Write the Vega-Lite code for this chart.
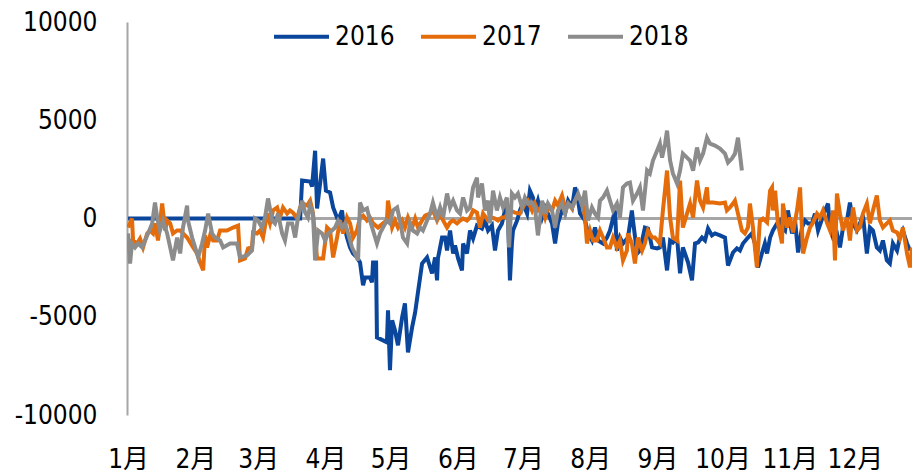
{
"$schema":"https://vega.github.io/schema/vega-lite/v6.json",
"width":785,"height":393,
"autosize":{"type":"none"},
"padding":{"left":127,"top":22,"right":2,"bottom":59},
"data":{"values":[
{"s":"2016","d":0,"v":0},{"s":"2016","d":79.3,"v":0},{"s":"2016","d":80.2,"v":1930},{"s":"2016","d":83.9,"v":1880},{"s":"2016","d":84.8,"v":1630},{"s":"2016","d":86.2,"v":3450},{"s":"2016","d":87.1,"v":510},{"s":"2016","d":89.9,"v":3050},{"s":"2016","d":91.2,"v":1420},{"s":"2016","d":93.1,"v":1320},{"s":"2016","d":94.5,"v":560},{"s":"2016","d":96.8,"v":-100},{"s":"2016","d":98.6,"v":410},{"s":"2016","d":99.1,"v":-100},{"s":"2016","d":100.9,"v":-970},{"s":"2016","d":102.3,"v":-1470},{"s":"2016","d":103.7,"v":-1780},{"s":"2016","d":105.5,"v":-1980},{"s":"2016","d":106.9,"v":-2240},{"s":"2016","d":108.3,"v":-3400},{"s":"2016","d":109.2,"v":-3000},{"s":"2016","d":111.5,"v":-3000},{"s":"2016","d":112.4,"v":-3250},{"s":"2016","d":112.9,"v":-2240},{"s":"2016","d":114.3,"v":-2240},{"s":"2016","d":114.7,"v":-6050},{"s":"2016","d":117.5,"v":-6200},{"s":"2016","d":119.3,"v":-6300},{"s":"2016","d":119.8,"v":-4670},{"s":"2016","d":120.7,"v":-7720},{"s":"2016","d":121.7,"v":-5180},{"s":"2016","d":123.0,"v":-5690},{"s":"2016","d":124.4,"v":-6450},{"s":"2016","d":126.3,"v":-5030},{"s":"2016","d":127.6,"v":-4320},{"s":"2016","d":129.0,"v":-6810},{"s":"2016","d":130.9,"v":-5540},{"s":"2016","d":132.3,"v":-4780},{"s":"2016","d":133.6,"v":-3760},{"s":"2016","d":135.5,"v":-2290},{"s":"2016","d":137.8,"v":-1980},{"s":"2016","d":140.1,"v":-2790},{"s":"2016","d":141.5,"v":-1980},{"s":"2016","d":142.4,"v":-3150},{"s":"2016","d":142.8,"v":-2030},{"s":"2016","d":144.7,"v":-970},{"s":"2016","d":146.1,"v":-970},{"s":"2016","d":147.0,"v":-1630},{"s":"2016","d":148.4,"v":-610},{"s":"2016","d":149.8,"v":-1780},{"s":"2016","d":150.7,"v":-1370},{"s":"2016","d":152.1,"v":-2030},{"s":"2016","d":153.9,"v":-2640},{"s":"2016","d":154.4,"v":-1270},{"s":"2016","d":156.2,"v":-1780},{"s":"2016","d":157.6,"v":-610},{"s":"2016","d":159.0,"v":-1020},{"s":"2016","d":160.8,"v":-360},{"s":"2016","d":163.1,"v":-510},{"s":"2016","d":164.5,"v":-100},{"s":"2016","d":165.9,"v":-610},{"s":"2016","d":167.7,"v":-360},{"s":"2016","d":169.1,"v":-1630},{"s":"2016","d":170.5,"v":-610},{"s":"2016","d":172.3,"v":-250},{"s":"2016","d":173.7,"v":410},{"s":"2016","d":175.1,"v":50},{"s":"2016","d":176.0,"v":-3150},{"s":"2016","d":176.9,"v":-1270},{"s":"2016","d":177.4,"v":-610},{"s":"2016","d":179.3,"v":-100},{"s":"2016","d":180.6,"v":410},{"s":"2016","d":182.0,"v":760},{"s":"2016","d":183.9,"v":250},{"s":"2016","d":185.2,"v":1420},{"s":"2016","d":186.6,"v":1070},{"s":"2016","d":187.5,"v":410},{"s":"2016","d":188.9,"v":910},{"s":"2016","d":190.8,"v":50},{"s":"2016","d":192.2,"v":560},{"s":"2016","d":193.5,"v":250},{"s":"2016","d":195.4,"v":-250},{"s":"2016","d":196.8,"v":-1270},{"s":"2016","d":198.1,"v":-250},{"s":"2016","d":200.0,"v":410},{"s":"2016","d":201.4,"v":250},{"s":"2016","d":202.8,"v":910},{"s":"2016","d":204.6,"v":560},{"s":"2016","d":206.0,"v":1580},{"s":"2016","d":206.9,"v":1270},{"s":"2016","d":208.3,"v":250},{"s":"2016","d":210.6,"v":-100},{"s":"2016","d":212.0,"v":-760},{"s":"2016","d":213.8,"v":-1120},{"s":"2016","d":215.2,"v":-460},{"s":"2016","d":216.6,"v":-1120},{"s":"2016","d":218.9,"v":-1270},{"s":"2016","d":220.7,"v":-970},{"s":"2016","d":222.1,"v":-610},{"s":"2016","d":224.4,"v":410},{"s":"2016","d":225.3,"v":-1630},{"s":"2016","d":226.7,"v":-970},{"s":"2016","d":228.1,"v":-1270},{"s":"2016","d":230.4,"v":-970},{"s":"2016","d":232.2,"v":410},{"s":"2016","d":232.7,"v":-100},{"s":"2016","d":234.6,"v":-1780},{"s":"2016","d":235.9,"v":-1630},{"s":"2016","d":238.2,"v":-460},{"s":"2016","d":239.6,"v":-510},{"s":"2016","d":241.5,"v":-1470},{"s":"2016","d":243.8,"v":-1520},{"s":"2016","d":245.1,"v":-1470},{"s":"2016","d":246.5,"v":-970},{"s":"2016","d":248.4,"v":-2640},{"s":"2016","d":249.8,"v":-1120},{"s":"2016","d":251.1,"v":-1220},{"s":"2016","d":253.0,"v":-970},{"s":"2016","d":254.4,"v":-2790},{"s":"2016","d":255.7,"v":-1470},{"s":"2016","d":258.1,"v":-2240},{"s":"2016","d":259.9,"v":-3150},{"s":"2016","d":261.3,"v":-1270},{"s":"2016","d":262.7,"v":-1220},{"s":"2016","d":264.5,"v":-970},{"s":"2016","d":265.9,"v":-1120},{"s":"2016","d":267.3,"v":-510},{"s":"2016","d":269.1,"v":-860},{"s":"2016","d":270.5,"v":-760},{"s":"2016","d":272.8,"v":-860},{"s":"2016","d":275.1,"v":-970},{"s":"2016","d":276.5,"v":-2390},{"s":"2016","d":278.8,"v":-1730},{"s":"2016","d":280.6,"v":-1520},{"s":"2016","d":282.0,"v":-1630},{"s":"2016","d":283.4,"v":-1270},{"s":"2016","d":285.7,"v":-970},{"s":"2016","d":287.5,"v":-760},{"s":"2016","d":288.9,"v":-1270},{"s":"2016","d":290.3,"v":-2490},{"s":"2016","d":292.1,"v":-1780},{"s":"2016","d":293.5,"v":-1270},{"s":"2016","d":294.5,"v":-1780},{"s":"2016","d":295.9,"v":-970},{"s":"2016","d":297.2,"v":-610},{"s":"2016","d":299.1,"v":-250},{"s":"2016","d":300.5,"v":-100},{"s":"2016","d":301.4,"v":-460},{"s":"2016","d":302.8,"v":-610},{"s":"2016","d":304.1,"v":410},{"s":"2016","d":306.0,"v":-760},{"s":"2016","d":307.4,"v":-100},{"s":"2016","d":308.8,"v":-1730},{"s":"2016","d":310.6,"v":-460},{"s":"2016","d":312.0,"v":-100},{"s":"2016","d":313.4,"v":-250},{"s":"2016","d":315.2,"v":-250},{"s":"2016","d":316.6,"v":250},{"s":"2016","d":318.0,"v":-610},{"s":"2016","d":319.9,"v":0},{"s":"2016","d":321.2,"v":410},{"s":"2016","d":322.6,"v":760},{"s":"2016","d":323.5,"v":-460},{"s":"2016","d":324.9,"v":-970},{"s":"2016","d":326.7,"v":-760},{"s":"2016","d":328.1,"v":-1470},{"s":"2016","d":329.5,"v":-460},{"s":"2016","d":331.3,"v":-100},{"s":"2016","d":332.7,"v":810},{"s":"2016","d":334.1,"v":-250},{"s":"2016","d":335.9,"v":-610},{"s":"2016","d":337.3,"v":-250},{"s":"2016","d":338.7,"v":150},{"s":"2016","d":340.5,"v":-1780},{"s":"2016","d":341.9,"v":-460},{"s":"2016","d":343.3,"v":-610},{"s":"2016","d":345.1,"v":-1470},{"s":"2016","d":346.5,"v":-1630},{"s":"2016","d":347.9,"v":-1120},{"s":"2016","d":349.7,"v":-2130},{"s":"2016","d":351.1,"v":-2290},{"s":"2016","d":352.5,"v":-1270},{"s":"2016","d":354.4,"v":-1630},{"s":"2016","d":355.7,"v":-970},{"s":"2016","d":357.1,"v":-610},{"s":"2016","d":359.0,"v":-1270},{"s":"2016","d":360.4,"v":-1630},
{"s":"2017","d":0,"v":-460},{"s":"2017","d":1.8,"v":0},{"s":"2017","d":2.3,"v":-1120},{"s":"2017","d":4.1,"v":-1270},{"s":"2017","d":5.5,"v":-1020},{"s":"2017","d":6.9,"v":-1470},{"s":"2017","d":8.8,"v":-760},{"s":"2017","d":10.1,"v":-610},{"s":"2017","d":11.5,"v":-760},{"s":"2017","d":12.4,"v":-250},{"s":"2017","d":13.8,"v":-1120},{"s":"2017","d":15.7,"v":760},{"s":"2017","d":17.1,"v":-610},{"s":"2017","d":18.0,"v":-100},{"s":"2017","d":19.4,"v":-250},{"s":"2017","d":20.7,"v":-760},{"s":"2017","d":22.6,"v":-610},{"s":"2017","d":24.0,"v":-610},{"s":"2017","d":25.3,"v":-760},{"s":"2017","d":27.2,"v":-970},{"s":"2017","d":28.6,"v":-1220},{"s":"2017","d":30.0,"v":-1470},{"s":"2017","d":31.8,"v":-1780},{"s":"2017","d":33.2,"v":-2240},{"s":"2017","d":34.6,"v":-2640},{"s":"2017","d":35.5,"v":-860},{"s":"2017","d":36.4,"v":-1470},{"s":"2017","d":37.8,"v":-860},{"s":"2017","d":39.2,"v":-1120},{"s":"2017","d":41.0,"v":-1120},{"s":"2017","d":42.4,"v":-610},{"s":"2017","d":45.6,"v":-610},{"s":"2017","d":48.4,"v":-460},{"s":"2017","d":50.7,"v":-360},{"s":"2017","d":51.6,"v":-2130},{"s":"2017","d":53.9,"v":-2030},{"s":"2017","d":55.3,"v":-1520},{"s":"2017","d":57.1,"v":-1470},{"s":"2017","d":57.6,"v":-710},{"s":"2017","d":59.4,"v":-760},{"s":"2017","d":60.8,"v":-610},{"s":"2017","d":62.2,"v":-970},{"s":"2017","d":64.1,"v":250},{"s":"2017","d":65.4,"v":-250},{"s":"2017","d":66.8,"v":410},{"s":"2017","d":68.7,"v":560},{"s":"2017","d":70.0,"v":50},{"s":"2017","d":71.4,"v":560},{"s":"2017","d":73.3,"v":250},{"s":"2017","d":74.6,"v":410},{"s":"2017","d":76.0,"v":300},{"s":"2017","d":77.9,"v":0},{"s":"2017","d":79.3,"v":560},{"s":"2017","d":80.6,"v":760},{"s":"2017","d":82.5,"v":660},{"s":"2017","d":83.9,"v":910},{"s":"2017","d":85.2,"v":300},{"s":"2017","d":87.1,"v":-2030},{"s":"2017","d":89.9,"v":-2030},{"s":"2017","d":91.7,"v":-460},{"s":"2017","d":93.1,"v":-610},{"s":"2017","d":94.5,"v":-1980},{"s":"2017","d":96.3,"v":-970},{"s":"2017","d":97.7,"v":-100},{"s":"2017","d":99.1,"v":-760},{"s":"2017","d":100.9,"v":50},{"s":"2017","d":102.3,"v":-250},{"s":"2017","d":103.7,"v":-970},{"s":"2017","d":105.5,"v":-610},{"s":"2017","d":106.9,"v":50},{"s":"2017","d":108.3,"v":150},{"s":"2017","d":110.1,"v":-100},{"s":"2017","d":111.5,"v":50},{"s":"2017","d":112.9,"v":-250},{"s":"2017","d":115.2,"v":-460},{"s":"2017","d":117.5,"v":-250},{"s":"2017","d":119.3,"v":-100},{"s":"2017","d":119.8,"v":910},{"s":"2017","d":121.7,"v":-460},{"s":"2017","d":123.0,"v":-100},{"s":"2017","d":124.4,"v":-460},{"s":"2017","d":126.3,"v":-100},{"s":"2017","d":127.6,"v":-460},{"s":"2017","d":129.0,"v":50},{"s":"2017","d":130.9,"v":-460},{"s":"2017","d":132.3,"v":0},{"s":"2017","d":133.6,"v":-460},{"s":"2017","d":135.5,"v":-100},{"s":"2017","d":136.9,"v":150},{"s":"2017","d":139.2,"v":250},{"s":"2017","d":140.5,"v":410},{"s":"2017","d":142.4,"v":-100},{"s":"2017","d":143.8,"v":250},{"s":"2017","d":145.2,"v":-100},{"s":"2017","d":147.0,"v":-460},{"s":"2017","d":148.4,"v":-200},{"s":"2017","d":149.8,"v":-100},{"s":"2017","d":151.6,"v":-250},{"s":"2017","d":153.0,"v":-100},{"s":"2017","d":154.4,"v":0},{"s":"2017","d":156.2,"v":-100},{"s":"2017","d":157.6,"v":50},{"s":"2017","d":159.0,"v":410},{"s":"2017","d":160.8,"v":300},{"s":"2017","d":162.2,"v":-460},{"s":"2017","d":163.6,"v":250},{"s":"2017","d":165.9,"v":-100},{"s":"2017","d":167.7,"v":50},{"s":"2017","d":169.1,"v":0},{"s":"2017","d":170.5,"v":-100},{"s":"2017","d":172.3,"v":50},{"s":"2017","d":173.7,"v":50},{"s":"2017","d":176.0,"v":410},{"s":"2017","d":178.3,"v":300},{"s":"2017","d":180.6,"v":250},{"s":"2017","d":182.9,"v":760},{"s":"2017","d":184.3,"v":910},{"s":"2017","d":186.2,"v":410},{"s":"2017","d":187.5,"v":760},{"s":"2017","d":188.9,"v":410},{"s":"2017","d":190.8,"v":560},{"s":"2017","d":192.2,"v":50},{"s":"2017","d":193.5,"v":560},{"s":"2017","d":195.4,"v":410},{"s":"2017","d":196.8,"v":910},{"s":"2017","d":198.1,"v":660},{"s":"2017","d":200.0,"v":1170},{"s":"2017","d":201.4,"v":560},{"s":"2017","d":202.8,"v":760},{"s":"2017","d":204.6,"v":510},{"s":"2017","d":206.0,"v":910},{"s":"2017","d":207.4,"v":1170},{"s":"2017","d":209.2,"v":910},{"s":"2017","d":210.6,"v":50},{"s":"2017","d":211.5,"v":-1270},{"s":"2017","d":212.9,"v":-610},{"s":"2017","d":214.3,"v":-1120},{"s":"2017","d":216.1,"v":-1120},{"s":"2017","d":217.5,"v":-610},{"s":"2017","d":218.9,"v":-970},{"s":"2017","d":220.7,"v":-1470},{"s":"2017","d":222.1,"v":-1470},{"s":"2017","d":223.5,"v":-970},{"s":"2017","d":225.3,"v":-1470},{"s":"2017","d":226.7,"v":-1120},{"s":"2017","d":228.1,"v":-2130},{"s":"2017","d":229.9,"v":-1630},{"s":"2017","d":230.4,"v":-760},{"s":"2017","d":232.2,"v":-1270},{"s":"2017","d":233.6,"v":-2290},{"s":"2017","d":235.0,"v":-970},{"s":"2017","d":236.9,"v":-1630},{"s":"2017","d":238.2,"v":-1270},{"s":"2017","d":239.6,"v":-610},{"s":"2017","d":241.5,"v":-970},{"s":"2017","d":242.8,"v":-970},{"s":"2017","d":245.1,"v":-1270},{"s":"2017","d":246.5,"v":410},{"s":"2017","d":248.4,"v":2440},{"s":"2017","d":249.8,"v":50},{"s":"2017","d":251.1,"v":-970},{"s":"2017","d":253.0,"v":-1120},{"s":"2017","d":254.4,"v":1930},{"s":"2017","d":255.7,"v":-460},{"s":"2017","d":257.6,"v":250},{"s":"2017","d":259.0,"v":760},{"s":"2017","d":260.4,"v":50},{"s":"2017","d":262.2,"v":1930},{"s":"2017","d":263.6,"v":910},{"s":"2017","d":265.0,"v":560},{"s":"2017","d":266.8,"v":1580},{"s":"2017","d":267.3,"v":810},{"s":"2017","d":269.6,"v":810},{"s":"2017","d":272.8,"v":760},{"s":"2017","d":275.1,"v":810},{"s":"2017","d":276.0,"v":410},{"s":"2017","d":277.4,"v":560},{"s":"2017","d":278.8,"v":760},{"s":"2017","d":279.7,"v":910},{"s":"2017","d":281.1,"v":250},{"s":"2017","d":282.9,"v":-610},{"s":"2017","d":284.3,"v":-760},{"s":"2017","d":285.7,"v":-460},{"s":"2017","d":286.6,"v":760},{"s":"2017","d":288.0,"v":-460},{"s":"2017","d":289.8,"v":-2490},{"s":"2017","d":291.2,"v":-100},{"s":"2017","d":292.6,"v":0},{"s":"2017","d":294.5,"v":-200},{"s":"2017","d":295.9,"v":1420},{"s":"2017","d":296.8,"v":1580},{"s":"2017","d":297.2,"v":410},{"s":"2017","d":298.2,"v":1420},{"s":"2017","d":299.5,"v":-250},{"s":"2017","d":301.4,"v":-1270},{"s":"2017","d":301.8,"v":760},{"s":"2017","d":303.7,"v":-460},{"s":"2017","d":305.1,"v":50},{"s":"2017","d":306.5,"v":-710},{"s":"2017","d":308.3,"v":410},{"s":"2017","d":309.7,"v":1580},{"s":"2017","d":311.1,"v":-1780},{"s":"2017","d":312.9,"v":-970},{"s":"2017","d":314.3,"v":-460},{"s":"2017","d":315.7,"v":-200},{"s":"2017","d":317.5,"v":250},{"s":"2017","d":318.9,"v":50},{"s":"2017","d":320.3,"v":410},{"s":"2017","d":322.2,"v":-250},{"s":"2017","d":323.5,"v":-610},{"s":"2017","d":324.9,"v":410},{"s":"2017","d":325.8,"v":-2130},{"s":"2017","d":326.7,"v":1270},{"s":"2017","d":328.1,"v":250},{"s":"2017","d":329.5,"v":-610},{"s":"2017","d":331.3,"v":50},{"s":"2017","d":332.7,"v":-1120},{"s":"2017","d":334.1,"v":560},{"s":"2017","d":335.9,"v":-610},{"s":"2017","d":337.3,"v":-460},{"s":"2017","d":338.7,"v":250},{"s":"2017","d":340.5,"v":760},{"s":"2017","d":341.9,"v":-250},{"s":"2017","d":343.3,"v":410},{"s":"2017","d":345.1,"v":1170},{"s":"2017","d":346.5,"v":-100},{"s":"2017","d":347.9,"v":-460},{"s":"2017","d":349.7,"v":-250},{"s":"2017","d":351.1,"v":-100},{"s":"2017","d":352.5,"v":-610},{"s":"2017","d":354.4,"v":-710},{"s":"2017","d":355.7,"v":-1020},{"s":"2017","d":357.1,"v":-460},{"s":"2017","d":359.0,"v":-1780},{"s":"2017","d":360.4,"v":-2490},{"s":"2017","d":361.3,"v":-1470},
{"s":"2018","d":0,"v":-760},{"s":"2018","d":0.9,"v":-2290},{"s":"2018","d":1.8,"v":-1270},{"s":"2018","d":3.2,"v":-1470},{"s":"2018","d":4.6,"v":-1270},{"s":"2018","d":6.5,"v":-1470},{"s":"2018","d":7.8,"v":-1120},{"s":"2018","d":9.2,"v":-760},{"s":"2018","d":11.1,"v":-250},{"s":"2018","d":12.4,"v":810},{"s":"2018","d":13.4,"v":50},{"s":"2018","d":14.7,"v":-610},{"s":"2018","d":16.1,"v":-100},{"s":"2018","d":18.0,"v":-760},{"s":"2018","d":19.4,"v":-1470},{"s":"2018","d":20.7,"v":-2130},{"s":"2018","d":22.6,"v":-970},{"s":"2018","d":24.0,"v":-1780},{"s":"2018","d":25.3,"v":-460},{"s":"2018","d":27.2,"v":660},{"s":"2018","d":27.6,"v":-100},{"s":"2018","d":29.5,"v":-970},{"s":"2018","d":30.9,"v":-1470},{"s":"2018","d":32.3,"v":-1980},{"s":"2018","d":34.1,"v":-1270},{"s":"2018","d":35.5,"v":-610},{"s":"2018","d":36.9,"v":250},{"s":"2018","d":38.7,"v":-760},{"s":"2018","d":40.1,"v":-970},{"s":"2018","d":42.4,"v":-1120},{"s":"2018","d":43.8,"v":-1470},{"s":"2018","d":47.0,"v":-1270},{"s":"2018","d":50.2,"v":-1270},{"s":"2018","d":51.6,"v":-1980},{"s":"2018","d":54.8,"v":-1880},{"s":"2018","d":57.1,"v":-1630},{"s":"2018","d":58.5,"v":0},{"s":"2018","d":59.9,"v":-100},{"s":"2018","d":61.7,"v":-460},{"s":"2018","d":63.1,"v":50},{"s":"2018","d":64.5,"v":1020},{"s":"2018","d":66.4,"v":-100},{"s":"2018","d":67.7,"v":-250},{"s":"2018","d":69.1,"v":250},{"s":"2018","d":71.0,"v":-760},{"s":"2018","d":72.3,"v":-1120},{"s":"2018","d":73.7,"v":-250},{"s":"2018","d":75.6,"v":-250},{"s":"2018","d":77.0,"v":-970},{"s":"2018","d":78.3,"v":50},{"s":"2018","d":80.2,"v":910},{"s":"2018","d":81.6,"v":300},{"s":"2018","d":82.9,"v":50},{"s":"2018","d":83.9,"v":660},{"s":"2018","d":85.2,"v":250},{"s":"2018","d":86.2,"v":-2130},{"s":"2018","d":87.6,"v":-610},{"s":"2018","d":89.4,"v":-760},{"s":"2018","d":90.8,"v":-1120},{"s":"2018","d":92.2,"v":-760},{"s":"2018","d":94.0,"v":-610},{"s":"2018","d":95.4,"v":-460},{"s":"2018","d":96.8,"v":-100},{"s":"2018","d":98.6,"v":-460},{"s":"2018","d":100.0,"v":-250},{"s":"2018","d":101.4,"v":-760},{"s":"2018","d":103.2,"v":-1470},{"s":"2018","d":104.6,"v":-1780},{"s":"2018","d":106.0,"v":-2130},{"s":"2018","d":106.9,"v":810},{"s":"2018","d":108.3,"v":410},{"s":"2018","d":110.1,"v":510},{"s":"2018","d":111.5,"v":-100},{"s":"2018","d":112.9,"v":-610},{"s":"2018","d":114.7,"v":-1270},{"s":"2018","d":116.1,"v":-760},{"s":"2018","d":117.5,"v":-460},{"s":"2018","d":119.3,"v":-100},{"s":"2018","d":120.7,"v":-250},{"s":"2018","d":122.1,"v":410},{"s":"2018","d":124.0,"v":560},{"s":"2018","d":125.3,"v":-100},{"s":"2018","d":126.7,"v":-970},{"s":"2018","d":128.6,"v":-1270},{"s":"2018","d":129.9,"v":-250},{"s":"2018","d":131.3,"v":-610},{"s":"2018","d":133.2,"v":-760},{"s":"2018","d":134.6,"v":-460},{"s":"2018","d":135.9,"v":-610},{"s":"2018","d":137.8,"v":-100},{"s":"2018","d":139.2,"v":250},{"s":"2018","d":140.5,"v":810},{"s":"2018","d":142.4,"v":50},{"s":"2018","d":143.8,"v":560},{"s":"2018","d":145.2,"v":50},{"s":"2018","d":147.0,"v":1270},{"s":"2018","d":148.4,"v":560},{"s":"2018","d":149.8,"v":910},{"s":"2018","d":151.6,"v":410},{"s":"2018","d":153.0,"v":250},{"s":"2018","d":154.4,"v":1070},{"s":"2018","d":156.2,"v":410},{"s":"2018","d":157.6,"v":560},{"s":"2018","d":159.0,"v":1580},{"s":"2018","d":160.8,"v":2080},{"s":"2018","d":161.3,"v":1070},{"s":"2018","d":163.1,"v":1780},{"s":"2018","d":164.5,"v":410},{"s":"2018","d":165.9,"v":910},{"s":"2018","d":166.8,"v":-250},{"s":"2018","d":168.2,"v":1420},{"s":"2018","d":170.0,"v":410},{"s":"2018","d":171.4,"v":1070},{"s":"2018","d":172.8,"v":560},{"s":"2018","d":174.6,"v":1070},{"s":"2018","d":175.6,"v":-1470},{"s":"2018","d":176.9,"v":1270},{"s":"2018","d":178.3,"v":1070},{"s":"2018","d":179.7,"v":1270},{"s":"2018","d":181.6,"v":560},{"s":"2018","d":182.9,"v":1070},{"s":"2018","d":184.3,"v":760},{"s":"2018","d":186.2,"v":810},{"s":"2018","d":187.5,"v":560},{"s":"2018","d":188.9,"v":-860},{"s":"2018","d":190.8,"v":910},{"s":"2018","d":192.2,"v":250},{"s":"2018","d":193.5,"v":760},{"s":"2018","d":195.4,"v":410},{"s":"2018","d":196.8,"v":-460},{"s":"2018","d":198.1,"v":410},{"s":"2018","d":200.0,"v":760},{"s":"2018","d":201.4,"v":250},{"s":"2018","d":202.8,"v":760},{"s":"2018","d":204.6,"v":560},{"s":"2018","d":206.0,"v":910},{"s":"2018","d":207.4,"v":1270},{"s":"2018","d":209.2,"v":660},{"s":"2018","d":210.6,"v":1420},{"s":"2018","d":212.0,"v":-100},{"s":"2018","d":213.8,"v":560},{"s":"2018","d":215.2,"v":250},{"s":"2018","d":216.6,"v":50},{"s":"2018","d":217.5,"v":910},{"s":"2018","d":218.9,"v":1070},{"s":"2018","d":220.7,"v":1420},{"s":"2018","d":222.1,"v":910},{"s":"2018","d":223.5,"v":410},{"s":"2018","d":225.3,"v":760},{"s":"2018","d":226.7,"v":50},{"s":"2018","d":228.1,"v":1580},{"s":"2018","d":229.9,"v":1780},{"s":"2018","d":231.3,"v":1830},{"s":"2018","d":232.7,"v":910},{"s":"2018","d":234.6,"v":1270},{"s":"2018","d":235.9,"v":1580},{"s":"2018","d":237.3,"v":410},{"s":"2018","d":239.2,"v":2440},{"s":"2018","d":240.5,"v":2290},{"s":"2018","d":241.9,"v":2950},{"s":"2018","d":243.8,"v":3450},{"s":"2018","d":245.1,"v":3810},{"s":"2018","d":246.1,"v":3100},{"s":"2018","d":247.5,"v":3810},{"s":"2018","d":248.4,"v":4470},{"s":"2018","d":249.8,"v":2950},{"s":"2018","d":251.1,"v":2290},{"s":"2018","d":253.0,"v":1780},{"s":"2018","d":254.4,"v":2440},{"s":"2018","d":255.7,"v":3300},{"s":"2018","d":257.6,"v":3100},{"s":"2018","d":259.0,"v":2950},{"s":"2018","d":260.4,"v":2440},{"s":"2018","d":262.2,"v":3610},{"s":"2018","d":263.6,"v":2950},{"s":"2018","d":265.0,"v":3300},{"s":"2018","d":266.8,"v":4110},{"s":"2018","d":268.2,"v":3810},{"s":"2018","d":270.5,"v":3710},{"s":"2018","d":272.8,"v":3560},{"s":"2018","d":275.1,"v":3300},{"s":"2018","d":276.5,"v":2850},{"s":"2018","d":278.3,"v":3050},{"s":"2018","d":279.7,"v":3300},{"s":"2018","d":281.1,"v":4110},{"s":"2018","d":282.9,"v":2440}
]},
"layer":[
{"mark":{"type":"rule","color":"#A6A6A6","strokeWidth":2},
 "encoding":{"y":{"datum":0,"type":"quantitative","scale":{"domain":[-10000,10000],"nice":false}}}},
{"mark":{"type":"line","strokeWidth":4,"clip":true},
 "encoding":{
  "x":{"field":"d","type":"quantitative","scale":{"domain":[-0.5,361.3],"nice":false,"zero":false},
   "axis":{"values":[0,31,60,91,121,152,182,213,244,274,305,335],
    "labelExpr":"['1月','2月','3月','4月','5月','6月','7月','8月','9月','10月','11月','12月'][indexof([0,31,60,91,121,152,182,213,244,274,305,335], datum.value)]",
    "labelOverlap":false,"labelFlush":false,"title":null}},
  "y":{"field":"v","type":"quantitative","scale":{"domain":[-10000,10000],"nice":false},
   "axis":{"values":[-10000,-5000,0,5000,10000],"labelExpr":"datum.value < 0 ? '-' + abs(datum.value) : '' + datum.value","title":null}},
  "color":{"field":"s","type":"nominal",
   "scale":{"domain":["2016","2017","2018"],"range":["#0A469B","#E46C0A","#8C8C8C"]},
   "legend":{"orient":"none","legendX":145,"legendY":-15,"padding":0,"direction":"horizontal","title":null,
    "symbolType":"stroke","symbolSize":3025,"symbolStrokeWidth":4,"labelFontSize":26,"labelFont":"DejaVu Sans Condensed, Noto Sans CJK SC","labelColor":"#000000","labelOffset":4,"columnPadding":18,"labelLimit":0}},
  "order":{"field":"s"}
 }}
],
"config":{
 "view":{"stroke":null},
 "font":"DejaVu Sans Condensed, Noto Sans CJK SC",
 "axis":{"grid":false,"ticks":false,"labelFont":"DejaVu Sans Condensed, Noto Sans CJK SC","labelFontSize":26,"labelColor":"#000000","title":null},
 "axisY":{"domainColor":"#A6A6A6","domainWidth":2,"labelPadding":30},
 "axisX":{"domain":false,"labelPadding":31}
}
}
